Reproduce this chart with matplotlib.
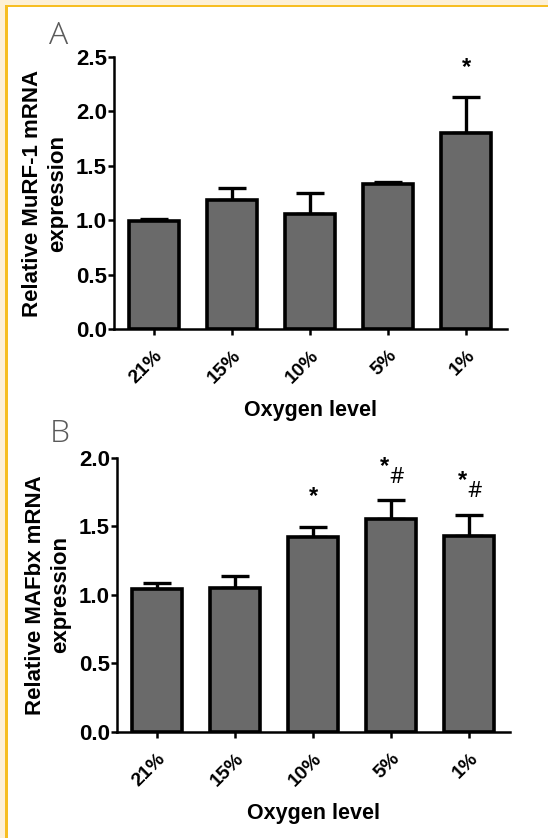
import matplotlib
matplotlib.use("Agg")
import matplotlib.pyplot as plt
from matplotlib.patches import Rectangle

categories = ["21%", "15%", "10%", "5%", "1%"]
murf_mean = [0.99, 1.19, 1.06, 1.33, 1.80]
murf_err = [0.02, 0.11, 0.19, 0.025, 0.33]
mafbx_mean = [1.04, 1.05, 1.42, 1.55, 1.43]
mafbx_err = [0.045, 0.09, 0.075, 0.14, 0.155]
murf_marks = ["", "", "", "", "*"]
mafbx_marks = ["", "", "*", "*#", "*#"]

BOLD = "Liberation Sans"
fig = plt.figure(figsize=(5.48, 8.38), dpi=100)
fig.patch.set_facecolor("white")

# frame decoration (cream band + yellow line on top and left)
fig.patches.append(Rectangle((0, 1 - 5 / 838), 1, 5 / 838, transform=fig.transFigure,
                             facecolor="#FDF0D6", edgecolor="none", zorder=0))
fig.patches.append(Rectangle((0, 0), 5 / 548, 1, transform=fig.transFigure,
                             facecolor="#FDF0D6", edgecolor="none", zorder=0))
fig.patches.append(Rectangle((5 / 548, 0), 2.5 / 548, 1 - 5 / 838, transform=fig.transFigure,
                             facecolor="#F7BE22", edgecolor="none", zorder=1))
fig.patches.append(Rectangle((5 / 548, 1 - 7.5 / 838), 1 - 5 / 548, 2.5 / 838, transform=fig.transFigure,
                             facecolor="#F7BE22", edgecolor="none", zorder=1))


def panel(rect, means, errs, marks, ylim, yticks, ylabel, letter, letter_xy):
    ax = fig.add_axes(rect)
    x = list(range(len(categories)))
    ax.bar(x, means, width=0.64, color="#6a6a6a", edgecolor="black", linewidth=2.6, zorder=3)
    ax.errorbar(x, means, yerr=[[0] * len(errs), errs], fmt="none", ecolor="black",
                elinewidth=2.4, capsize=10, capthick=2.4, zorder=2)
    ax.set_xlim(-0.51, 4.52)
    ax.set_ylim(*ylim)
    ax.set_yticks(yticks)
    ax.set_yticklabels([f"{t:.1f}" for t in yticks], fontfamily=BOLD, fontweight="bold", fontsize=16)
    ax.set_xticks(x)
    ax.set_xticklabels(categories, rotation=45, ha="right", va="top", rotation_mode="anchor",
                       fontfamily=BOLD, fontweight="bold", fontsize=14)
    for s in ["top", "right"]:
        ax.spines[s].set_visible(False)
    for s in ["left", "bottom"]:
        ax.spines[s].set_linewidth(1.8)
    ax.tick_params(axis="both", direction="out", width=1.8, length=4.5)
    ax.tick_params(axis="y", pad=0.5)
    ax.tick_params(axis="x", pad=8.5)
    ax.set_ylabel(ylabel, fontfamily=BOLD, fontweight="bold", fontsize=16, linespacing=1.25, labelpad=6)
    ax.set_xlabel("Oxygen level", fontfamily=BOLD, fontweight="bold", fontsize=15.5, labelpad=9.5)
    span = ylim[1] - ylim[0]
    for i, (m, e, mk) in enumerate(zip(means, errs, marks)):
        if mk == "*":
            ax.text(i, m + e + 0.11 * span, "*", ha="center", va="center", fontfamily=BOLD,
                    fontweight="bold", fontsize=17, clip_on=False)
        elif mk == "*#":
            ax.text(i - 0.09, m + e + 0.124 * span, "*", ha="center", va="center", fontfamily=BOLD,
                    fontweight="bold", fontsize=17, clip_on=False)
            ax.text(i + 0.07, m + e + 0.083 * span, "#", ha="center", va="center", fontfamily="Open Sans",
                    fontsize=16, clip_on=False)
    fig.text(letter_xy[0] / 548, 1 - letter_xy[1] / 838, letter, ha="center", va="center",
             fontfamily="Open Sans", fontweight="light", fontsize=23, color="#5a5a5a")
    return ax


panel([114 / 548, 1 - 329 / 838, 393 / 548, 272 / 838], murf_mean, murf_err, murf_marks,
      (0, 2.5), [0.0, 0.5, 1.0, 1.5, 2.0, 2.5], "Relative MuRF-1 mRNA\nexpression", "A", (59, 36))
panel([117 / 548, 1 - 731.7 / 838, 393 / 548, 274 / 838], mafbx_mean, mafbx_err, mafbx_marks,
      (0, 2.0), [0.0, 0.5, 1.0, 1.5, 2.0], "Relative MAFbx mRNA\nexpression", "B", (60, 434))

fig.savefig("out.png", dpi=100)
